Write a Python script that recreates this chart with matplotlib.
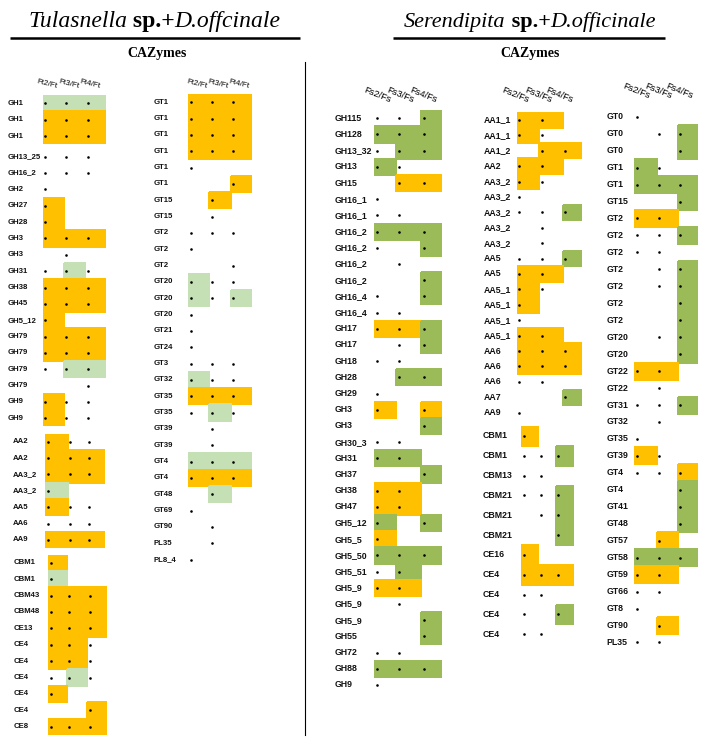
import matplotlib
matplotlib.use('Agg')
import matplotlib.pyplot as plt
import numpy as np
from matplotlib.colors import ListedColormap, BoundaryNorm

# ---------------- data ----------------
# codes: O = orange cell (+dot), G = light green cell (+dot), V = green cell (+dot), D = dot only, - = empty
ft_headers = ['Ft2/Ft', 'Ft3/Ft', 'Ft4/Ft']
fs_headers = ['Fs2/Fs', 'Fs3/Fs', 'Fs4/Fs']

t1a_labels = ['GH1', 'GH1', 'GH1']
t1a_rows = ['GGG', 'OOO', 'OOO']
t1b_labels = ['GH13_25', 'GH16_2', 'GH2', 'GH27', 'GH28', 'GH3', 'GH3', 'GH31', 'GH38', 'GH45',
              'GH5_12', 'GH79', 'GH79', 'GH79', 'GH79', 'GH9', 'GH9']
t1b_rows = ['DDD', 'DDD', 'D--', 'O--', 'O--', 'OOO', '-D-', 'DGD', 'OOO', 'OOO',
            'O--', 'OOO', 'OOO', 'DGG', '--D', 'ODD', 'ODD']
t1c_labels = ['AA2', 'AA2', 'AA3_2', 'AA3_2', 'AA5', 'AA6', 'AA9']
t1c_rows = ['ODD', 'OOO', 'OOO', 'G--', 'ODD', 'DDD', 'OOO']
t1d_labels = ['CBM1', 'CBM1', 'CBM43', 'CBM48', 'CE13', 'CE4', 'CE4', 'CE4', 'CE4', 'CE4', 'CE8']
t1d_rows = ['O--', 'G--', 'OOO', 'OOO', 'OOO', 'OOD', 'OOD', 'DGD', 'O--', '--O', 'OOO']

t2_labels = ['GT1'] * 6 + ['GT15', 'GT15', 'GT2', 'GT2', 'GT2', 'GT20', 'GT20', 'GT20', 'GT21', 'GT24',
                           'GT3', 'GT32', 'GT35', 'GT35', 'GT39', 'GT39', 'GT4', 'GT4', 'GT48', 'GT69',
                           'GT90', 'PL35', 'PL8_4']
t2_rows = ['OOO', 'OOO', 'OOO', 'OOO', 'D--', '--O', '-O-', '-D-', 'DDD', 'D--', '--D', 'GDD', 'GDG',
           'D--', 'D--', 'D--', 'DDD', 'GDD', 'OOO', 'DGD', '-D-', '-D-', 'GGG', 'OOO', '-G-', 'D--',
           '-D-', '-D-', 'D--']

s3_labels = ['GH115', 'GH128', 'GH13_32', 'GH13', 'GH15', 'GH16_1', 'GH16_1', 'GH16_2', 'GH16_2',
             'GH16_2', 'GH16_2', 'GH16_4', 'GH16_4', 'GH17', 'GH17', 'GH18', 'GH28', 'GH29', 'GH3',
             'GH3', 'GH30_3', 'GH31', 'GH37', 'GH38', 'GH47', 'GH5_12', 'GH5_5', 'GH5_50', 'GH5_51',
             'GH5_9', 'GH5_9', 'GH5_9', 'GH55', 'GH72', 'GH88', 'GH9']
s3_rows = ['DDV', 'VVV', 'DVV', 'VD-', '-OO', 'D--', 'DD-', 'VVV', 'D-V', '-D-', '--V', 'D-V', 'DD-',
           'OOV', '-DV', 'DD-', '-VV', 'D--', 'O-O', '--V', 'DD-', 'VV-', '--V', 'OO-', 'OO-', 'V-V',
           'O--', 'VVV', 'DV-', 'OO-', '-D-', '--V', '--V', 'DD-', 'VVV', 'D--']

s4a_labels = ['AA1_1', 'AA1_1', 'AA1_2', 'AA2', 'AA3_2', 'AA3_2', 'AA3_2', 'AA3_2', 'AA3_2', 'AA5',
              'AA5', 'AA5_1', 'AA5_1', 'AA5_1', 'AA5_1', 'AA6', 'AA6', 'AA6', 'AA7', 'AA9']
s4a_rows = ['OO-', 'OD-', '-OO', 'OO-', 'OD-', 'D--', 'DDV', '-D-', '-D-', 'DDV',
            'OO-', 'OD-', 'O--', 'D--', 'OO-', 'OOO', 'OOO', 'DD-', '--V', 'D--']
s4b_labels = ['CBM1', 'CBM1', 'CBM13', 'CBM21', 'CBM21', 'CBM21', 'CE16', 'CE4', 'CE4', 'CE4', 'CE4']
s4b_rows = ['O--', 'DDV', 'DD-', 'DDV', '-DV', '--V', 'O--', 'OOO', 'DD-', 'D-V', 'DD-']

s5_labels = ['GT0', 'GT0', 'GT0', 'GT1', 'GT1', 'GT15', 'GT2', 'GT2', 'GT2', 'GT2', 'GT2', 'GT2', 'GT2',
             'GT20', 'GT20', 'GT22', 'GT22', 'GT31', 'GT32', 'GT35', 'GT39', 'GT4', 'GT4', 'GT41',
             'GT48', 'GT57', 'GT58', 'GT59', 'GT66', 'GT8', 'GT90', 'PL35']
s5_rows = ['D--', '-DV', '--V', 'VD-', 'VVV', '--V', 'OO-', 'DDV', 'DD-', '-DV', '-DV', '--V', '--V',
           '-DV', '--V', 'OO-', '-D-', 'DDV', '-D-', 'D--', 'OD-', 'DDO', '--V', '--V', '--V', '-O-',
           'VVV', 'OO-', 'DD-', 'D--', '-O-', 'DD-']

# ---------------- style ----------------
W, H = 708, 744
ORANGE, LGREEN, GREEN = '#FFC000', '#C5E0B4', '#9BBB59'
cmap = ListedColormap([ORANGE, LGREEN, GREEN])
norm = BoundaryNorm([0.5, 1.5, 2.5, 3.5], 3)
CODE = {'-': 0, 'D': 0, 'O': 1, 'G': 2, 'V': 3}
ARIAL = ['Liberation Sans', 'DejaVu Sans']
SERIF = ['Liberation Serif', 'DejaVu Serif']

fig = plt.figure(figsize=(W / 100, H / 100), dpi=100)


def section(labels, rows, xedges, yc0, rh, label_x, fsize):
    n = len(labels)
    top = yc0 - rh / 2
    ax = fig.add_axes([xedges[0] / W, 1 - (top + n * rh) / H,
                       (xedges[-1] - xedges[0]) / W, n * rh / H])
    ax.set_xlim(xedges[0], xedges[-1])
    ax.set_ylim(n, 0)
    ax.axis('off')
    M = np.array([[CODE[c] for c in r] for r in rows], float)
    ax.pcolormesh(xedges, np.arange(n + 1), np.ma.masked_equal(M, 0), cmap=cmap, norm=norm,
                  edgecolors='face', linewidth=0.3, antialiased=False)
    dx, dy = [], []
    for i, r in enumerate(rows):
        for j, c in enumerate(r):
            if c != '-':
                dx.append(xedges[j] + 2.6)
                dy.append(i + 0.5)
    ax.scatter(dx, dy, s=3.5, c='black', linewidths=0, zorder=3)
    for i, lab in enumerate(labels):
        ax.text(label_x, i + 0.5, lab, ha='left', va='center', fontsize=fsize,
                fontweight='bold', family=ARIAL, color='#111111', clip_on=False)
    return ax


def headers(names, xedges, dxh, y, rot, fsize):
    for j, nm in enumerate(names):
        xc = (xedges[j] + xedges[j + 1]) / 2 + dxh
        fig.text(xc / W, 1 - y / H, nm, ha='center', va='center', rotation=rot,
                 rotation_mode='anchor', fontsize=fsize, family=ARIAL, color='black')


# Tulasnella panels
TF = 5.6
x1 = [42.7, 63.9, 85.1, 106.3]
section(t1a_labels, t1a_rows, x1, 103.3, 16.35, 7.3, TF)
section(t1b_labels, t1b_rows, x1, 156.7, 16.35, 7.3, TF)
section(t1c_labels, t1c_rows, [45.0, 67.7, 86.5, 105.3], 441.7, 16.38, 13.3, TF)
section(t1d_labels, t1d_rows, [48.3, 66.7, 87.3, 106.7], 562.7, 16.4, 14.0, TF)
headers(ft_headers, x1, -6, 84, -14, 5.8)

x2 = [188.3, 209.4, 230.6, 251.7]
section(t2_labels, t2_rows, x2, 102.3, 16.33, 153.3, TF)
headers(ft_headers, x2, -2, 84, -14, 5.8)

# Serendipita panels
SF = 6.3
x3 = [374.3, 396.0, 421.0, 441.7]
section(s3_labels, s3_rows, x3, 118.3, 16.19, 335.0, SF)
headers(fs_headers, x3, -8, 95, -22, 6.7)

x4 = [516.7, 539.3, 562.7, 581.7]
section(s4a_labels, s4a_rows, x4, 120.0, 15.4, 483.3, SF)
section(s4b_labels, s4b_rows, [521.0, 538.3, 555.7, 574.3], 436.0, 19.83, 482.7, SF)
headers(fs_headers, x4, -13, 95, -22, 6.7)

x5 = [634.3, 656.7, 677.7, 698.3]
section(s5_labels, s5_rows, x5, 116.7, 16.96, 606.7, SF)
headers(fs_headers, x5, -9, 91, -22, 6.7)

# ---------------- titles / decorations ----------------
bg = fig.add_axes([0, 0, 1, 1], zorder=-1)
bg.set_xlim(0, W)
bg.set_ylim(H, 0)
bg.axis('off')
bg.plot([10, 300], [38, 38], color='black', lw=1.8, solid_capstyle='butt')
bg.plot([393, 665], [38, 38], color='black', lw=1.8, solid_capstyle='butt')
bg.plot([305, 305], [62, 735], color='black', lw=0.8)


def title(x, y, parts, size):
    t = bg.text(x, y, parts[0][0], fontsize=size, family=SERIF, style=parts[0][1],
                fontweight=parts[0][2], ha='left', va='baseline')
    for txt, st, wt in parts[1:]:
        t = bg.annotate(txt, xy=(1, 0), xycoords=t, fontsize=size, family=SERIF, style=st,
                        fontweight=wt, ha='left', va='bottom')
    return t


title(28, 27, [('Tulasnella', 'italic', 'normal'), (' sp.+', 'normal', 'bold'),
               ('D.offcinale', 'italic', 'normal')], 17)
title(404, 27, [('Serendipita', 'italic', 'normal'), (' sp.+', 'normal', 'bold'),
                ('D.officinale', 'italic', 'normal')], 16)
bg.text(157, 53, 'CAZymes', fontsize=10, family=SERIF, fontweight='bold', ha='center', va='center')
bg.text(530, 53, 'CAZymes', fontsize=10, family=SERIF, fontweight='bold', ha='center', va='center')

fig.savefig('out.png', dpi=100, facecolor='white')
